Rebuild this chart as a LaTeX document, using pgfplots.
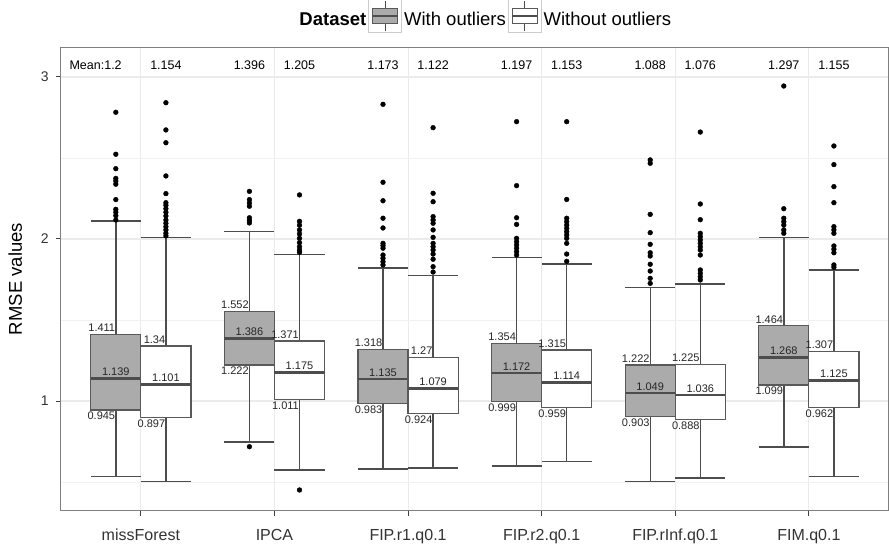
\documentclass[border=0pt]{standalone}
\usepackage{fontspec}
\setmainfont{Liberation Sans}
\usepackage{pgfplots}
\pgfplotsset{compat=1.18}
\usepgfplotslibrary{statistics}
\usetikzlibrary{calc}
\definecolor{boxgray}{HTML}{ABABAB}
\definecolor{boxline}{HTML}{595959}
\definecolor{whisk}{HTML}{4D4D4D}
\definecolor{gridc}{HTML}{EBEBEB}
\definecolor{border}{HTML}{7F7F7F}
\definecolor{txt}{HTML}{333333}
\newcommand{\qfont}{\fontsize{11}{13}\selectfont}
\newcommand{\mfont}{\fontsize{12.5}{14}\selectfont}
% quartile labels: position, q1, median, q3
\newcommand{\qlabels}[4]{%
  \node[anchor=south east, inner xsep=0.5pt, inner ysep=2.5pt, font=\qfont, text=black!85] at (axis cs:#1,#4) {#4};
  \node[anchor=south, inner sep=1pt, yshift=1.5pt, font=\qfont, text=black!85] at (axis cs:#1,#3) {#3};
  \node[anchor=north east, inner xsep=0.5pt, inner ysep=2pt, font=\qfont, text=black!85] at (axis cs:#1,#2) {#2};
}
\pgfplotsset{
  gbox/.style={forget plot, mark=none, draw=boxline, line width=1.2pt, fill=boxgray,
    boxplot/draw direction=y,
    boxplot/every box/.style={fill=boxgray, line width=1.2pt},
    boxplot/every whisker/.style={draw=whisk, line width=1.4pt},
    boxplot/every median/.style={draw=whisk, line width=2.6pt}},
  wbox/.style={forget plot, mark=none, draw=boxline, line width=1.2pt, fill=white,
    boxplot/draw direction=y,
    boxplot/every box/.style={fill=white, line width=1.2pt},
    boxplot/every whisker/.style={draw=whisk, line width=1.4pt},
    boxplot/every median/.style={draw=whisk, line width=2.6pt}},
  outl/.style={forget plot, only marks, mark=*, mark size=2.4pt, black},
}
\begin{document}
\begin{tikzpicture}
\begin{axis}[
  scale only axis, width=828.3pt, height=463.4pt,
  xmin=0.4, xmax=6.6, ymin=0.323, ymax=3.183,
  xtick={1,...,6},
  xticklabels={missForest,IPCA,FIP.r1.q0.1,FIP.r2.q0.1,FIP.rInf.q0.1,FIM.q0.1},
  ytick={1,2,3}, minor ytick={0.5,1.5,2.5},
  grid=both,
  major grid style={draw=gridc, line width=1.1pt},
  minor grid style={draw=gridc!70, line width=0.7pt},
  axis line style={draw=border, line width=1.1pt},
  tick align=outside, major tick length=5pt, minor tick length=0pt,
  tick pos=left,
  every tick/.style={draw=black!75, line width=1pt},
  /pgf/number format/assume math mode=true,
  yticklabel style={font=\fontsize{14}{16}\selectfont, text=txt, xshift=-3.5pt},
  xticklabel style={font=\fontsize{16}{18}\selectfont, text=txt, yshift=-10pt},
  ylabel={RMSE values},
  every axis y label/.style={at={(axis description cs:-0.05495,0.5)}, rotate=90, anchor=center,
    font=\fontsize{18.5}{20}\selectfont},
  legend columns=-1,
  legend style={at={(axis description cs:0.2856,1.0669)}, anchor=west, draw=none, fill=none,
    inner sep=0pt, font=\fontsize{18.5}{20}\selectfont, nodes={inner xsep=2pt, inner ysep=0pt}},
]
\addlegendimage{empty legend}
\addlegendentry{\textbf{Dataset}}
\addlegendimage{legend image code/.code={
  \draw[draw=black!20, line width=0.8pt, fill=white] (0pt,-13pt) rectangle (33pt,20pt);
  \draw[whisk, line width=1.1pt] (16.5pt,-11.5pt) -- (16.5pt,18.5pt);
  \draw[boxline, line width=1.1pt, fill=boxgray] (4pt,-4pt) rectangle (29pt,11pt);
  \draw[whisk, line width=2pt] (4pt,3.5pt) -- (29pt,3.5pt);
}}
\addlegendentry{With outliers}
\addlegendimage{legend image code/.code={
  \draw[draw=black!20, line width=0.8pt, fill=white] (0pt,-13pt) rectangle (33pt,20pt);
  \draw[whisk, line width=1.1pt] (16.5pt,-11.5pt) -- (16.5pt,18.5pt);
  \draw[boxline, line width=1.1pt, fill=white] (4pt,-4pt) rectangle (29pt,11pt);
  \draw[whisk, line width=2pt] (4pt,3.5pt) -- (29pt,3.5pt);
}}
\addlegendentry{Without outliers}

% missForest
\addplot[gbox, boxplot prepared={draw position=0.8125, box extend=0.375, whisker extend=0.375,
  lower whisker=0.533, lower quartile=0.945, median=1.139, upper quartile=1.411, upper whisker=2.111}] coordinates {};
\addplot[wbox, boxplot prepared={draw position=1.1875, box extend=0.375, whisker extend=0.375,
  lower whisker=0.502, lower quartile=0.897, median=1.101, upper quartile=1.34, upper whisker=2.008}] coordinates {};
\addplot[outl] coordinates {(0.8125,2.782) (0.8125,2.523) (0.8125,2.434) (0.8125,2.374) (0.8125,2.358) (0.8125,2.338)
  (0.8125,2.243) (0.8125,2.183) (0.8125,2.165) (0.8125,2.144) (0.8125,2.117)};
\addplot[outl] coordinates {(1.1875,2.841) (1.1875,2.673) (1.1875,2.594) (1.1875,2.389) (1.1875,2.280) (1.1875,2.224)
  (1.1875,2.208) (1.1875,2.187) (1.1875,2.165) (1.1875,2.142) (1.1875,2.117) (1.1875,2.097) (1.1875,2.076)
  (1.1875,2.056) (1.1875,2.035) (1.1875,2.019)};
% IPCA
\addplot[gbox, boxplot prepared={draw position=1.8125, box extend=0.375, whisker extend=0.375,
  lower whisker=0.747, lower quartile=1.222, median=1.386, upper quartile=1.552, upper whisker=2.045}] coordinates {};
\addplot[wbox, boxplot prepared={draw position=2.1875, box extend=0.375, whisker extend=0.375,
  lower whisker=0.574, lower quartile=1.011, median=1.175, upper quartile=1.371, upper whisker=1.905}] coordinates {};
\addplot[outl] coordinates {(1.8125,0.718) (1.8125,2.294) (1.8125,2.243) (1.8125,2.222) (1.8125,2.202) (1.8125,2.131)
  (1.8125,2.115) (1.8125,2.099)};
\addplot[outl] coordinates {(2.1875,0.451) (2.1875,2.272) (2.1875,2.109) (2.1875,2.085) (2.1875,2.056) (2.1875,2.031)
  (2.1875,2.004) (2.1875,1.977) (2.1875,1.952) (2.1875,1.932) (2.1875,1.918)};
% FIP.r1.q0.1
\addplot[gbox, boxplot prepared={draw position=2.8125, box extend=0.375, whisker extend=0.375,
  lower whisker=0.580, lower quartile=0.983, median=1.135, upper quartile=1.318, upper whisker=1.821}] coordinates {};
\addplot[wbox, boxplot prepared={draw position=3.1875, box extend=0.375, whisker extend=0.375,
  lower whisker=0.586, lower quartile=0.924, median=1.079, upper quartile=1.27, upper whisker=1.776}] coordinates {};
\addplot[outl] coordinates {(2.8125,2.831) (2.8125,2.350) (2.8125,2.236) (2.8125,2.128) (2.8125,2.068) (2.8125,1.973)
  (2.8125,1.959) (2.8125,1.943) (2.8125,1.901) (2.8125,1.881) (2.8125,1.860) (2.8125,1.840)};
\addplot[outl] coordinates {(3.1875,2.687) (3.1875,2.282) (3.1875,2.230) (3.1875,2.138) (3.1875,2.117) (3.1875,2.097)
  (3.1875,2.056) (3.1875,2.010) (3.1875,1.973) (3.1875,1.952) (3.1875,1.932) (3.1875,1.907) (3.1875,1.875)
  (3.1875,1.829) (3.1875,1.796)};
% FIP.r2.q0.1
\addplot[gbox, boxplot prepared={draw position=3.8125, box extend=0.375, whisker extend=0.375,
  lower whisker=0.599, lower quartile=0.999, median=1.172, upper quartile=1.354, upper whisker=1.887}] coordinates {};
\addplot[wbox, boxplot prepared={draw position=4.1875, box extend=0.375, whisker extend=0.375,
  lower whisker=0.628, lower quartile=0.959, median=1.114, upper quartile=1.315, upper whisker=1.846}] coordinates {};
\addplot[outl] coordinates {(3.8125,2.724) (3.8125,2.329) (3.8125,2.131) (3.8125,2.090) (3.8125,2.004) (3.8125,1.983)
  (3.8125,1.963) (3.8125,1.943) (3.8125,1.922) (3.8125,1.901)};
\addplot[outl] coordinates {(4.1875,2.724) (4.1875,2.244) (4.1875,2.128) (4.1875,2.107) (4.1875,2.086) (4.1875,2.066)
  (4.1875,2.045) (4.1875,2.025) (4.1875,2.004) (4.1875,1.973) (4.1875,1.907) (4.1875,1.862)};
% FIP.rInf.q0.1
\addplot[gbox, boxplot prepared={draw position=4.8125, box extend=0.375, whisker extend=0.375,
  lower whisker=0.504, lower quartile=0.903, median=1.049, upper quartile=1.222, upper whisker=1.702}] coordinates {};
\addplot[wbox, boxplot prepared={draw position=5.1875, box extend=0.375, whisker extend=0.375,
  lower whisker=0.525, lower quartile=0.888, median=1.036, upper quartile=1.225, upper whisker=1.722}] coordinates {};
\addplot[outl] coordinates {(4.8125,2.488) (4.8125,2.467) (4.8125,2.152) (4.8125,2.039) (4.8125,1.967) (4.8125,1.915)
  (4.8125,1.895) (4.8125,1.844) (4.8125,1.802) (4.8125,1.757) (4.8125,1.726)};
\addplot[outl] coordinates {(5.1875,2.660) (5.1875,2.216) (5.1875,2.119) (5.1875,2.035) (5.1875,2.014) (5.1875,1.994)
  (5.1875,1.973) (5.1875,1.952) (5.1875,1.932) (5.1875,1.901) (5.1875,1.809) (5.1875,1.788) (5.1875,1.767)
  (5.1875,1.747)};
% FIM.q0.1
\addplot[gbox, boxplot prepared={draw position=5.8125, box extend=0.375, whisker extend=0.375,
  lower whisker=0.716, lower quartile=1.099, median=1.268, upper quartile=1.464, upper whisker=2.008}] coordinates {};
\addplot[wbox, boxplot prepared={draw position=6.1875, box extend=0.375, whisker extend=0.375,
  lower whisker=0.535, lower quartile=0.962, median=1.125, upper quartile=1.307, upper whisker=1.809}] coordinates {};
\addplot[outl] coordinates {(5.8125,2.944) (5.8125,2.187) (5.8125,2.128) (5.8125,2.107) (5.8125,2.086) (5.8125,2.056)
  (5.8125,2.035)};
\addplot[outl] coordinates {(6.1875,2.574) (6.1875,2.459) (6.1875,2.323) (6.1875,2.224) (6.1875,2.076) (6.1875,2.056)
  (6.1875,2.035) (6.1875,1.957) (6.1875,1.936) (6.1875,1.915) (6.1875,1.840) (6.1875,1.825)};

% quartile and median labels
\qlabels{0.8125}{0.945}{1.139}{1.411}
\qlabels{1.1875}{0.897}{1.101}{1.34}
\qlabels{1.8125}{1.222}{1.386}{1.552}
\qlabels{2.1875}{1.011}{1.175}{1.371}
\qlabels{2.8125}{0.983}{1.135}{1.318}
\qlabels{3.1875}{0.924}{1.079}{1.27}
\qlabels{3.8125}{0.999}{1.172}{1.354}
\qlabels{4.1875}{0.959}{1.114}{1.315}
\qlabels{4.8125}{0.903}{1.049}{1.222}
\qlabels{5.1875}{0.888}{1.036}{1.225}
\qlabels{5.8125}{1.099}{1.268}{1.464}
\qlabels{6.1875}{0.962}{1.125}{1.307}

% means
\node[anchor=east, inner sep=0pt, font=\mfont] at (axis cs:0.858,3.071) {Mean:1.2};
\node[font=\mfont] at (axis cs:1.1875,3.071) {1.154};
\node[font=\mfont] at (axis cs:1.8125,3.071) {1.396};
\node[font=\mfont] at (axis cs:2.1875,3.071) {1.205};
\node[font=\mfont] at (axis cs:2.8125,3.071) {1.173};
\node[font=\mfont] at (axis cs:3.1875,3.071) {1.122};
\node[font=\mfont] at (axis cs:3.8125,3.071) {1.197};
\node[font=\mfont] at (axis cs:4.1875,3.071) {1.153};
\node[font=\mfont] at (axis cs:4.8125,3.071) {1.088};
\node[font=\mfont] at (axis cs:5.1875,3.071) {1.076};
\node[font=\mfont] at (axis cs:5.8125,3.071) {1.297};
\node[font=\mfont] at (axis cs:6.1875,3.071) {1.155};
\end{axis}
\pgfresetboundingbox
\path ($(current axis.south west)+(-60.7pt,-34.3pt)$) rectangle ($(current axis.north east)+(0pt,47.3pt)$);
\end{tikzpicture}
\end{document}
